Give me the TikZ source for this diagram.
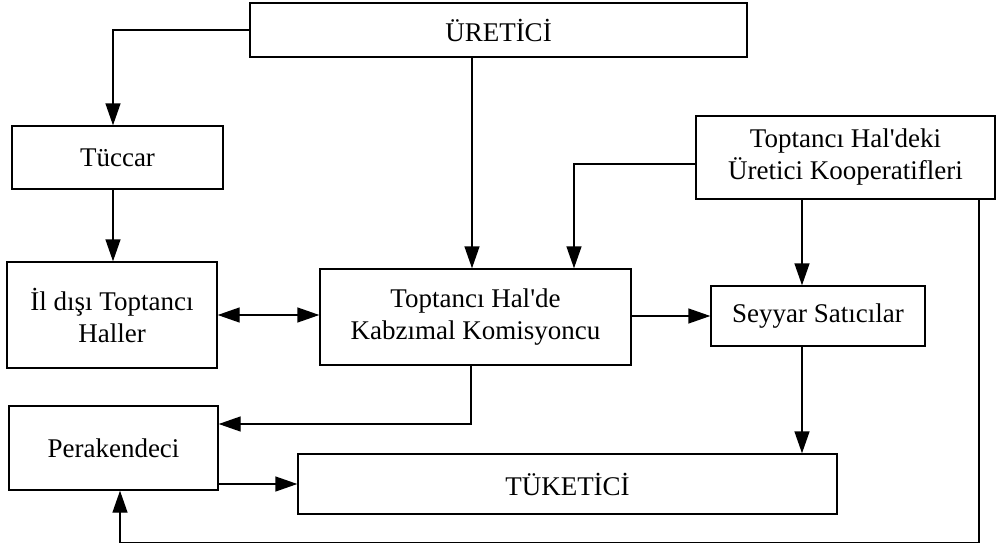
\documentclass[tikz,border=0pt]{standalone}
\usepackage{fontspec}
\newfontfamily\labelfont{Liberation Serif}
\usetikzlibrary{arrows.meta}
\tikzset{
  box/.style={draw, line width=1.4pt, rectangle, inner sep=0pt, align=center,
    font=\labelfont\fontsize{27}{32}\selectfont},
  arr/.style={draw, line width=1.4pt, -{Triangle[length=22pt,width=15pt]}},
  arrboth/.style={draw, line width=1.4pt, {Triangle[length=22pt,width=15pt]}-{Triangle[length=22pt,width=15pt]}}
}
\begin{document}
\begin{tikzpicture}[x=1pt, y=-1pt]
\useasboundingbox (0,0) rectangle (997,546);

% boxes
\node[box, minimum width=497pt, minimum height=54pt] (ure) at (498.5,30) {ÜRETİCİ};
\node[box, minimum width=211pt, minimum height=63pt] (tuc) at (117.5,157.5) {Tüccar};
\node[box, minimum width=210pt, minimum height=106pt] (ild) at (112,315) {İl dışı Toptancı\\Haller};
\node[box, minimum width=311pt, minimum height=96pt] (kab) at (475.5,317) {Toptancı Hal'de\\Kabzımal Komisyoncu};
\node[box, minimum width=299pt, minimum height=83pt] (koop) at (845.5,157.5) {Toptancı Hal'deki\\Üretici Kooperatifleri};
\node[box, minimum width=214pt, minimum height=60pt] (sey) at (818,316) {Seyyar Satıcılar};
\node[box, minimum width=209pt, minimum height=84pt] (per) at (113.5,448) {Perakendeci};
\node[box, minimum width=539pt, minimum height=60pt] (tuk) at (567.5,484) {TÜKETİCİ};

% connectors
\draw[arr] (ure.west) -| ([xshift=-4.5pt]tuc.north);
\draw[arr] ([xshift=-4.5pt]tuc.south) -- ([xshift=1pt]ild.north);
\draw[arr] ([xshift=-3.5pt]ure.south -| kab.north) -- ([xshift=-3.5pt]kab.north);
\draw[arr] ([yshift=-6.5pt]koop.west) -| ([xshift=98.5pt]kab.north);
\draw[arr] ([xshift=-43.5pt]koop.south) -- ([xshift=-16pt]sey.north);
\draw[arr] ([xshift=-16pt]sey.south) -- ([xshift=-16pt]sey.south |- tuk.north);
\draw[arrboth] (ild.east) -- (ild.east -| kab.west);
\draw[arr] ([yshift=1pt]kab.east) -- ([yshift=1pt]kab.east -| sey.west);
\draw[arr] ([xshift=-4.5pt]kab.south) |- ([yshift=24pt]per.east);
\draw[arr] (per.east |- tuk.west) -- (tuk.west);
\draw[arr] ([xshift=133.5pt]koop.south) -- ++(0,343) -| ([xshift=6.5pt]per.south);
\end{tikzpicture}
\end{document}
